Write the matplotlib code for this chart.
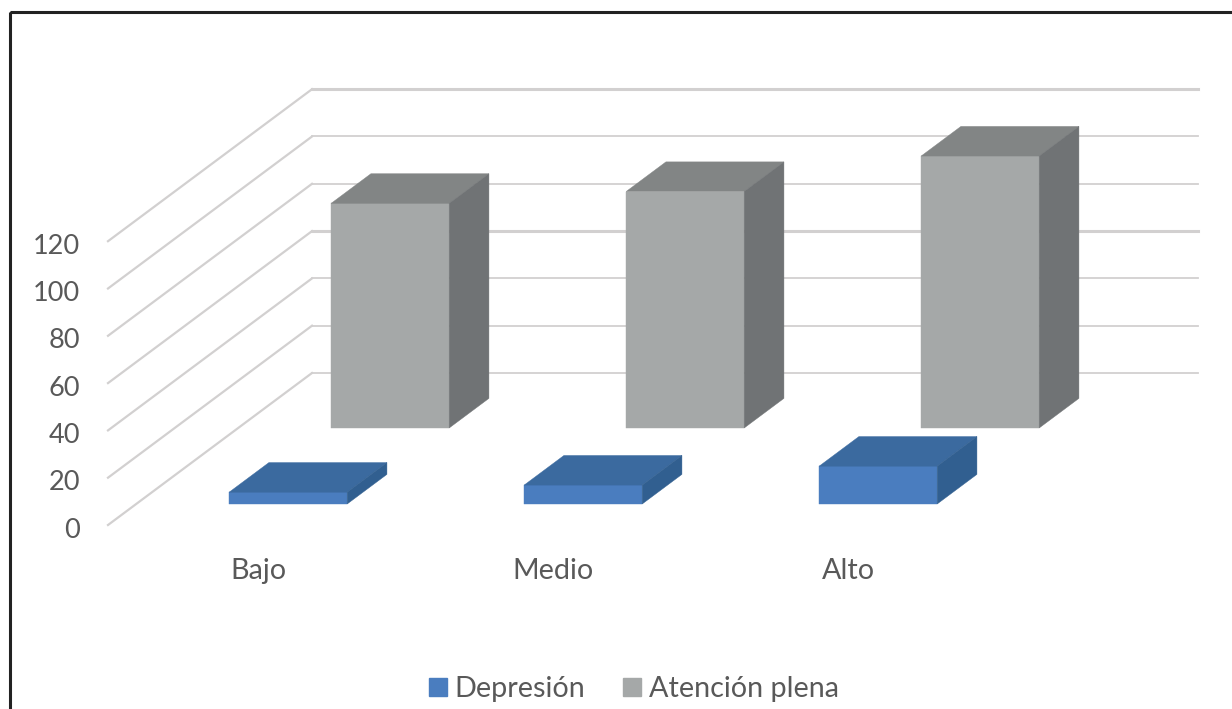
import matplotlib
matplotlib.use("Agg")
import matplotlib.pyplot as plt
from matplotlib.patches import Polygon, Patch, Rectangle

plt.rcParams['font.family'] = ['Lato', 'DejaVu Sans']

categories = ['Bajo', 'Medio', 'Alto']
depresion = [5, 8, 16]
atencion = [95, 100, 115]
y_ticks = [0, 20, 40, 60, 80, 100, 120]
heavy_ticks = [60, 120]

BLUE = ('#4a7dbf', '#3b6a9f', '#315f90')  # front, top, side
GREY = ('#a5a8a8', '#828585', '#707375')
TEXT = '#595959'
GRID = '#d2d0d0'

# fake 3d box: u runs along the floor, d goes into the page (0 front, 1 back)
X0, Y0 = 108, 525
DX, DY = 204, -152
UNIT = 2.365
CAT_W = 295
BAR_W = 118
BAR_D = 0.195


def project(u, v, d):
    return X0 + u + DX * d, Y0 + DY * d - UNIT * v


def box(ax, u, value, d, colors):
    front = [project(u, 0, d), project(u + BAR_W, 0, d),
             project(u + BAR_W, value, d), project(u, value, d)]
    top = [project(u, value, d), project(u + BAR_W, value, d),
           project(u + BAR_W, value, d + BAR_D), project(u, value, d + BAR_D)]
    side = [project(u + BAR_W, 0, d), project(u + BAR_W, 0, d + BAR_D),
            project(u + BAR_W, value, d + BAR_D), project(u + BAR_W, value, d)]
    for pts, c in zip((front, top, side), colors):
        ax.add_patch(Polygon(pts, closed=True, facecolor=c, edgecolor=c, linewidth=0.3))


fig = plt.figure(figsize=(12.32, 7.09), dpi=100)
ax = fig.add_axes([0, 0, 1, 1])
ax.set_xlim(0, 1232)
ax.set_ylim(709, 0)
ax.axis('off')

# walls
for t in y_ticks:
    lw = 2.2 if t in heavy_ticks else 1.3
    xs, ys = zip(project(0, t, 0), project(0, t, 1))
    ax.plot(xs, ys, color=GRID, lw=1.6, zorder=1)
    xs, ys = zip(project(0, t, 1), project(886, t, 1))
    ax.plot(xs, ys, color=GRID, lw=lw, zorder=1)
    fx, fy = project(0, t, 0)
    ax.text(fx - 28, fy + 5, str(t), ha='right', va='center', fontsize=19.5, color=TEXT)

# back row first so the front row sits over it
for i, val in enumerate(atencion):
    box(ax, 93 + CAT_W * i, val, 0.638, GREY)
for i, val in enumerate(depresion):
    box(ax, 93 + CAT_W * i, val, 0.138, BLUE)

for i, cat in enumerate(categories):
    ax.text(258 + CAT_W * i, 571, cat, ha='center', va='center', fontsize=20.7, color=TEXT)

handles = [Patch(color=BLUE[0], label='Depresión'), Patch(color=GREY[0], label='Atención plena')]
ax.legend(handles=handles, loc='center', bbox_to_anchor=(634 / 1232, 1 - 689 / 709), ncol=2,
          frameon=False, fontsize=20.7, labelcolor=TEXT, handlelength=0.62, handleheight=0.62,
          handletextpad=0.28, columnspacing=1.32)

# frame runs off the right and bottom edges
ax.add_patch(Rectangle((10, 12), 1240, 720, facecolor='none', edgecolor='#222222', linewidth=2.2,
                       clip_on=True))

fig.savefig('out.png', dpi=100)
